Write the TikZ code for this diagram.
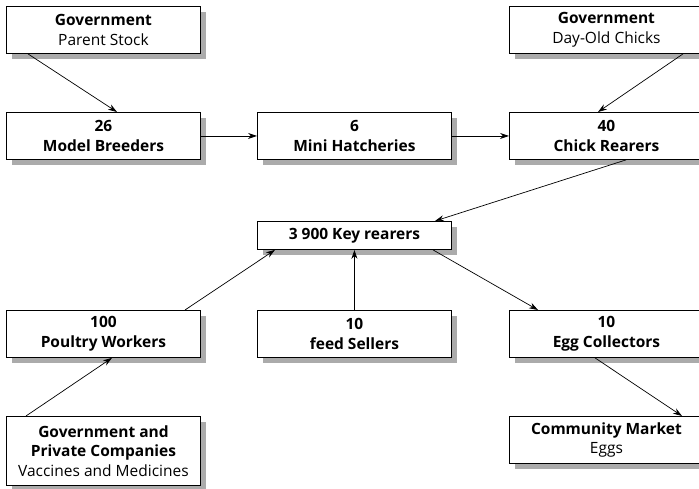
\documentclass[tikz,border=0pt]{standalone}
\usepackage{fontspec}
\setmainfont{Open Sans}
\usepackage{tikz}
\usetikzlibrary{calc,shadows,arrows.meta}
\tikzset{>={Stealth[length=9pt,width=6pt]}}
\tikzset{
  unitbox/.style={draw, line width=0.9pt, fill=white, anchor=north west,
    minimum width=194pt, minimum height=47pt, inner sep=0pt, align=center,
    font=\fontsize{15.5pt}{19.5pt}\selectfont,
    drop shadow={shadow xshift=6pt, shadow yshift=-6pt, fill=black!33, opacity=1}},
  flow/.style={->, line width=0.7pt}
}

\begin{document}
\begin{tikzpicture}[x=1pt,y=-1pt]
    \useasboundingbox (0,0) rectangle (699,489);
    \clip (0,0) rectangle (699,489);

    \node[unitbox] (gps) at (6,6)   {\textbf{Government}\\Parent Stock};
    \node[unitbox] (gdc) at (509,6) {\textbf{Government}\\Day-Old Chicks};

    \node[unitbox] (mb) at (6,112)   {\textbf{26}\\\textbf{Model Breeders}};
    \node[unitbox] (mh) at (257,112) {\textbf{6}\\\textbf{Mini Hatcheries}};
    \node[unitbox] (cr) at (509,112) {\textbf{40}\\\textbf{Chick Rearers}};

    \node[unitbox, minimum height=28pt] (kr) at (257,221) {\textbf{3 900 Key rearers}};

    \node[unitbox] (pw) at (6,310)   {\textbf{100}\\\textbf{Poultry Workers}};
    \node[unitbox] (fs) at (257,310) {\textbf{10}\\\textbf{feed Sellers}};
    \node[unitbox] (ec) at (509,310) {\textbf{10}\\\textbf{Egg Collectors}};

    \node[unitbox, minimum height=69pt] (gpc) at (6,416) {\textbf{Government and}\\\textbf{Private Companies}\\Vaccines and Medicines};
    \node[unitbox] (cm) at (509,416) {\textbf{Community Market}\\Eggs};

    % supply chain
    \draw[flow] ([xshift=22pt]gps.south west) -- ([xshift=111pt]mb.north west);
    \draw[flow] (mb.east) -- (mh.west);
    \draw[flow] (mh.east) -- (cr.west);
    \draw[flow] ([xshift=174pt]gdc.south west) -- ([xshift=89pt]cr.north west);
    \draw[flow] ([xshift=117pt]cr.south west) -- ([xshift=178pt]kr.north west);
    \draw[flow] ([xshift=179pt]pw.north west) -- ([xshift=18pt]kr.south west);
    \draw[flow] (fs.north) -- (fs.north |- kr.south);
    \draw[flow] ([xshift=176pt]kr.south west) -- ([xshift=29pt]ec.north west);
    \draw[flow] ([xshift=86pt]ec.south west) -- ([xshift=173pt]cm.north west);
    \draw[flow] ([xshift=20pt]gpc.north west) -- ([xshift=106pt]pw.south west);
\end{tikzpicture}
\end{document}
